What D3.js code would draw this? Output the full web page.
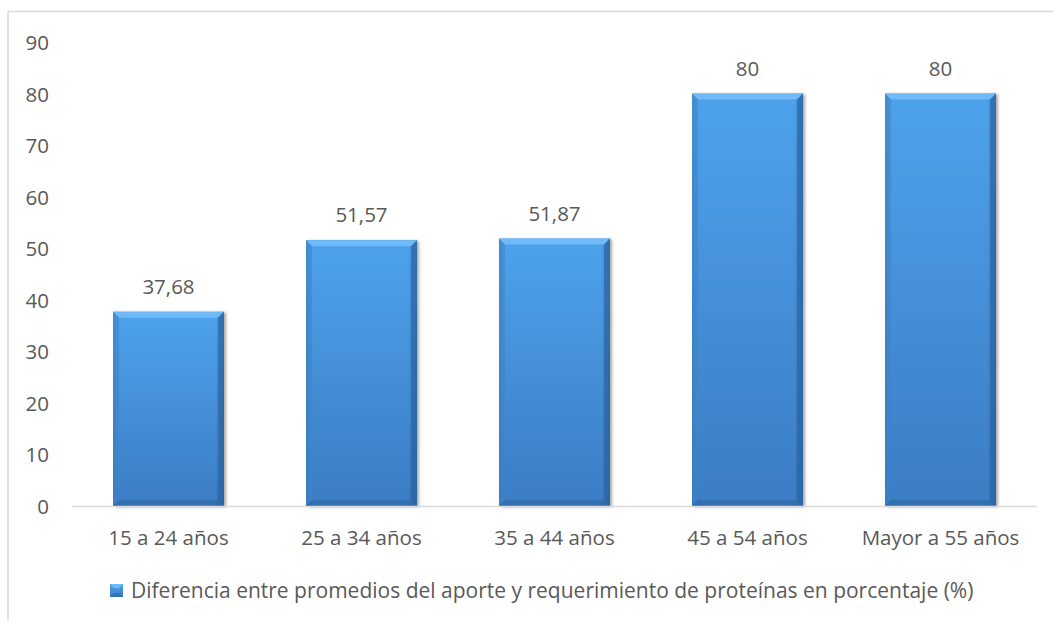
<!DOCTYPE html>
<html>
<head>
<meta charset="utf-8">
<script src="https://cdn.jsdelivr.net/npm/d3@7"></script>
<style>
  html, body { margin: 0; padding: 0; background: #fff; }
  svg { display: block; }
  text { font-family: "Open Sans", "Noto Sans", sans-serif; fill: #595959; }
</style>
</head>
<body>
<svg id="chart" width="1053" height="621"></svg>
<script>
// Data
const categories = ["15 a 24 años", "25 a 34 años", "35 a 44 años", "45 a 54 años", "Mayor a 55 años"];
const values = [37.68, 51.57, 51.87, 80, 80];
const valueLabels = ["37,68", "51,57", "51,87", "80", "80"];
const yTicks = [0, 10, 20, 30, 40, 50, 60, 70, 80, 90];
const seriesName = "Diferencia entre promedios del aporte y requerimiento de proteínas en porcentaje (%)";

const W = 1053, H = 621;
const svg = d3.select("#chart");
const fontSize = 20.5;
const legendFontSize = 21;

// Chart frame (top and left edges visible)
svg.append("line").attr("x1", 8).attr("x2", W).attr("y1", 11.5).attr("y2", 11.5)
  .attr("stroke", "#d9d9d9").attr("stroke-width", 1.5);
svg.append("line").attr("x1", 8).attr("x2", 8).attr("y1", 11).attr("y2", 620)
  .attr("stroke", "#d9d9d9").attr("stroke-width", 1.5);

const plot = { left: 72, right: 1037, top: 42, bottom: 506 };

const x = d3.scaleBand().domain(categories).range([plot.left, plot.right])
  .paddingInner(0.425).paddingOuter(0.2125);
const y = d3.scaleLinear().domain([0, 90]).range([plot.bottom, plot.top]);

// Gradients for the bevelled bars
const defs = svg.append("defs");
const body = defs.append("linearGradient").attr("id", "barBody")
  .attr("x1", 0).attr("y1", 0).attr("x2", 0).attr("y2", 1);
body.append("stop").attr("offset", "0%").attr("stop-color", "#4ea2ec");
body.append("stop").attr("offset", "100%").attr("stop-color", "#3b7dc4");

const side = defs.append("linearGradient").attr("id", "barSide")
  .attr("x1", 0).attr("y1", 0).attr("x2", 1).attr("y2", 0);
side.append("stop").attr("offset", "0%").attr("stop-color", "#000").attr("stop-opacity", 0.12);
side.append("stop").attr("offset", "6%").attr("stop-color", "#000").attr("stop-opacity", 0);
side.append("stop").attr("offset", "92%").attr("stop-color", "#000").attr("stop-opacity", 0);
side.append("stop").attr("offset", "100%").attr("stop-color", "#000").attr("stop-opacity", 0.22);

const shadow = defs.append("filter").attr("id", "shadow")
  .attr("x", "-10%").attr("y", "-10%").attr("width", "130%").attr("height", "120%");
shadow.append("feGaussianBlur").attr("in", "SourceAlpha").attr("stdDeviation", 1.5).attr("result", "b");
shadow.append("feOffset").attr("in", "b").attr("dx", 1.5).attr("dy", 0.5).attr("result", "o");
shadow.append("feComponentTransfer").attr("in", "o").attr("result", "s")
  .append("feFuncA").attr("type", "linear").attr("slope", 0.35);
const merge = shadow.append("feMerge");
merge.append("feMergeNode").attr("in", "s");
merge.append("feMergeNode").attr("in", "SourceGraphic");

// Y axis labels
svg.append("g").selectAll("text").data(yTicks).join("text")
  .attr("x", 49).attr("y", d => y(d))
  .attr("text-anchor", "end").attr("dominant-baseline", "central")
  .attr("font-size", fontSize).text(d => d);

// Bars
const bev = 6;
const bars = svg.append("g").selectAll("g").data(values).join("g")
  .attr("filter", "url(#shadow)");

bars.each(function(v, i) {
  const g = d3.select(this);
  const x0 = x(categories[i]), w = x.bandwidth();
  const y0 = y(v), y1 = y(0), h = y1 - y0;
  g.append("rect").attr("x", x0).attr("y", y0).attr("width", w).attr("height", h)
    .attr("fill", "url(#barBody)");
  g.append("rect").attr("x", x0).attr("y", y0).attr("width", w).attr("height", h)
    .attr("fill", "url(#barSide)");
  // top bevel (light)
  g.append("path").attr("d", `M${x0},${y0}L${x0 + w},${y0}L${x0 + w - bev},${y0 + bev}L${x0 + bev},${y0 + bev}Z`)
    .attr("fill", "#6fbaf7");
  // left bevel
  g.append("path").attr("d", `M${x0},${y0}L${x0 + bev},${y0 + bev}L${x0 + bev},${y1 - bev}L${x0},${y1}Z`)
    .attr("fill", "#3f86d0").attr("opacity", 0.55);
  // right bevel
  g.append("path").attr("d", `M${x0 + w},${y0}L${x0 + w - bev},${y0 + bev}L${x0 + w - bev},${y1 - bev}L${x0 + w},${y1}Z`)
    .attr("fill", "#2c66a6").attr("opacity", 0.7);
  // bottom bevel
  g.append("path").attr("d", `M${x0},${y1}L${x0 + bev},${y1 - bev}L${x0 + w - bev},${y1 - bev}L${x0 + w},${y1}Z`)
    .attr("fill", "#2f6aa8").attr("opacity", 0.7);
});

// Baseline
svg.append("line").attr("x1", plot.left).attr("x2", plot.right)
  .attr("y1", y(0) + 0.5).attr("y2", y(0) + 0.5)
  .attr("stroke", "#d9d9d9").attr("stroke-width", 1.5);

// Value labels
svg.append("g").selectAll("text").data(values).join("text")
  .attr("x", (d, i) => x(categories[i]) + x.bandwidth() / 2)
  .attr("y", d => y(d) - 26)
  .attr("text-anchor", "middle").attr("dominant-baseline", "central")
  .attr("font-size", fontSize).text((d, i) => valueLabels[i]);

// Category labels
svg.append("g").selectAll("text").data(categories).join("text")
  .attr("x", d => x(d) + x.bandwidth() / 2).attr("y", 537)
  .attr("text-anchor", "middle").attr("dominant-baseline", "central")
  .attr("font-size", fontSize).text(d => d);

// Legend
const lg = svg.append("g");
lg.append("rect").attr("x", 110).attr("y", 584).attr("width", 13).attr("height", 13)
  .attr("fill", "url(#barBody)");
lg.append("path").attr("d", "M110,584L123,584L119,588L114,588Z").attr("fill", "#6fbaf7");
lg.append("path").attr("d", "M110,597L114,593L119,593L123,597Z").attr("fill", "#2f6aa8").attr("opacity", 0.7);
lg.append("text").attr("x", 131).attr("y", 590).attr("dominant-baseline", "central")
  .attr("font-size", legendFontSize).text(seriesName);
</script>
</body>
</html>
